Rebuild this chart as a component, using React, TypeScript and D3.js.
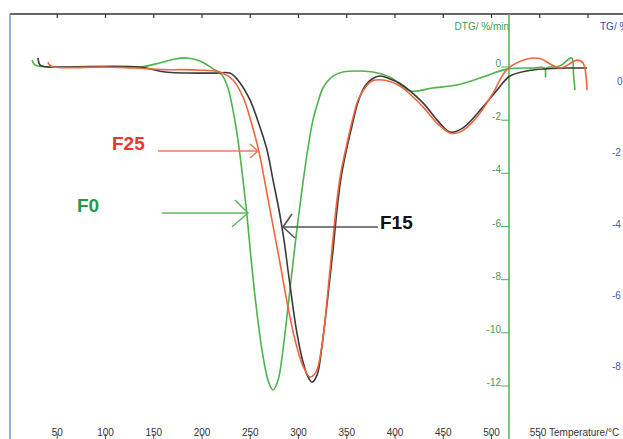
import React from "react";
import * as d3 from "d3";

type P = [number, number];

// Temperature (°C) vs DTG (%/min)
const f0: P[] = [
  [24, 0.26], [26, 0.11], [30, 0.04], [42, 0], [95, 0], [136, 0], [156, 0.15], [172, 0.3], [184, 0.34],
  [198, 0.23], [212, -0.08], [220.7, -0.3], [226.9, -0.79], [232.1, -1.62], [237.3, -2.75], [242.5, -4.25],
  [246.6, -5.57], [250.8, -7.19], [256, -8.96], [262.2, -10.65], [268.4, -11.78], [273.6, -12.15],
  [278.8, -11.78], [283.9, -10.65], [289.1, -9.03], [294.3, -7.37], [299.5, -5.76], [304.7, -4.33],
  [309.8, -3.05], [315, -1.99], [320.2, -1.32], [325.4, -0.79], [335.8, -0.34], [346, -0.19], [377, -0.19],
  [395, -0.38], [415.5, -0.9], [439, -0.79], [464, -0.68], [491, -0.38], [516, -0.08], [543, -0.04],
  [555, -0.04], [556, -0.38], [557, -0.04], [571, 0.04], [583, 0.34], [585, -0.3], [586.5, -0.87],
];

const f15: P[] = [
  [30, 0.34], [32, 0.08], [36, 0.02], [42.5, 0], [136, 0], [162, -0.19], [213.5, -0.23], [229, -0.23],
  [239.4, -0.6], [249.7, -1.24], [260.1, -2.26], [267.4, -3.12], [273.6, -4.25], [279.8, -5.38],
  [285, -6.51], [289.1, -7.64], [293.3, -8.77], [298.4, -10.01], [304.7, -11.1], [309.8, -11.66],
  [314, -11.85], [319.2, -11.59], [324.4, -10.46], [330.6, -8.58], [335.8, -6.88], [339.9, -5.38],
  [344, -4.18], [349.2, -3.2], [355.4, -2.22], [361.7, -1.32], [368.9, -0.71], [376.2, -0.45],
  [384.5, -0.34], [394.8, -0.45], [405.2, -0.62], [429, -1.35], [443.5, -1.99], [457, -2.45],
  [470.5, -2.29], [491.2, -1.5], [505.7, -0.87], [519.2, -0.34], [543, -0.11], [578, -0.04], [599, -0.04],
];

const f25: P[] = [
  [40.4, 0.19], [42, 0.08], [46, 0], [100, 0], [130, -0.04], [160, -0.1], [180, -0.1], [200, -0.12],
  [213, -0.15], [218.7, -0.19], [232.1, -0.49], [242.5, -1.13], [251.8, -2.18], [259.1, -3.2],
  [265.3, -4.36], [272.5, -5.76], [280.8, -7.37], [288.1, -8.84], [296.4, -10.27], [304.7, -11.25],
  [311.9, -11.66], [318.1, -11.48], [324.4, -10.46], [330.6, -8.39], [335.8, -6.43], [339.9, -5.0],
  [344, -3.95], [349.2, -3.05], [355.4, -2.07], [361.7, -1.24], [368.9, -0.79], [376.2, -0.53],
  [387.6, -0.49], [405.2, -0.72], [429, -1.5], [443.5, -2.11], [457, -2.48], [467.4, -2.45],
  [485, -1.88], [501.6, -0.98], [516, -0.1], [536.8, 0.3], [550, 0.32], [571, -0.04], [588.6, 0.26],
  [594.8, 0.15], [599, -0.87],
];

const tempTicks = [50, 100, 150, 200, 250, 300, 350, 400, 450, 500];
const topTicks = [50, 100, 150, 200, 250, 300, 350, 400, 450, 500, 550, 600];
const dtgTicks = [0, -2, -4, -6, -8, -10, -12];
const tgTicks = [0, -2, -4, -6, -8];

const W = 623;
const H = 439;

export default function App() {
  const x = d3.scaleLinear().domain([0, 600]).range([9, 588]);
  const y = d3.scaleLinear().domain([0, -12]).range([67, 386]);
  const yTG = d3.scaleLinear().domain([0, -8]).range([81, 366]);
  const line = d3
    .line<P>()
    .x((d) => x(d[0]))
    .y((d) => y(d[1]))
    .curve(d3.curveCatmullRom.alpha(0.5));

  const dtgX = 509;
  const font = "'Liberation Sans', Arial, sans-serif";

  return (
    <svg
      width={W}
      height={H}
      style={{ position: "fixed", left: 0, top: 0, display: "block", background: "#fff" }}
      fontFamily={font}
    >
      <rect x={0} y={0} width={W} height={H} fill="#fff" />
      {/* frame */}
      <line x1={10} y1={14} x2={W} y2={14} stroke="#333" strokeWidth={1.5} />
      <line x1={10} y1={14} x2={10} y2={H} stroke="#7e8ce0" strokeWidth={1.5} />
      {topTicks.map((t) => (
        <line key={"tt" + t} x1={x(t)} x2={x(t)} y1={14} y2={18} stroke="#333" strokeWidth={1.2} />
      ))}
      {/* bottom temperature labels */}
      {tempTicks.map((t) => (
        <g key={"bt" + t}>
          <line x1={x(t)} x2={x(t)} y1={434} y2={H} stroke="#555" strokeWidth={1} />
          <text x={x(t)} y={436} fontSize={10} textAnchor="middle" fill="#333">
            {t}
          </text>
        </g>
      ))}
      <line x1={x(550)} x2={x(550)} y1={434} y2={H} stroke="#555" strokeWidth={1} />
      <text x={x(550) - 10} y={436} fontSize={10} fill="#333">
        550 Temperature/°C
      </text>

      {/* DTG axis */}
      <line x1={dtgX} x2={dtgX} y1={14} y2={H} stroke="#4cb050" strokeWidth={1.5} />
      <text x={dtgX} y={30} fontSize={10} textAnchor="end" fill="#3f9a52">
        DTG/ %/min
      </text>
      {dtgTicks.map((v) => (
        <g key={"dt" + v}>
          <line x1={dtgX - 8} x2={dtgX} y1={y(v)} y2={y(v)} stroke="#4cb050" strokeWidth={1} />
          <text x={dtgX - 8} y={y(v)} fontSize={10} textAnchor="end" fill="#3f9a52">
            {v}
          </text>
        </g>
      ))}

      {/* TG axis (labels only, partly outside the view as in the original) */}
      <text x={600} y={30} fontSize={10} fill="#3a46a8">
        TG/ %
      </text>
      {tgTicks.map((v) => (
        <text key={"tg" + v} x={v === 0 ? 617 : 612} y={yTG(v) + 4} fontSize={10} fill="#4a58b8">
          {v}
        </text>
      ))}

      {/* curves */}
      <path d={line(f0) || ""} fill="none" stroke="#4cb44c" strokeWidth={1.6} />
      <path d={line(f15) || ""} fill="none" stroke="#3a3a3a" strokeWidth={1.6} />
      <path d={line(f25) || ""} fill="none" stroke="#f0643e" strokeWidth={1.6} />

      {/* annotations */}
      <text x={112} y={150} fontSize={19} fontWeight="bold" fill="#f5322a">
        F25
      </text>
      <g stroke="#f07a58" strokeWidth={1.5} fill="none">
        <line x1={158} y1={151} x2={258} y2={151} />
        <polyline points="250,144 258,151 250,158" />
      </g>

      <text x={77} y={212} fontSize={19} fontWeight="bold" fill="#1f9a45">
        F0
      </text>
      <g stroke="#5cba5c" strokeWidth={1.5} fill="none">
        <line x1={162} y1={213} x2={248} y2={213} />
        <polyline points="235,200 248,213 232,227" />
      </g>

      <text x={380} y={229} fontSize={19} fontWeight="bold" fill="#111">
        F15
      </text>
      <g stroke="#555" strokeWidth={1.6} fill="none">
        <line x1={378} y1={227} x2={283} y2={227} />
        <polyline points="292,214 283,227 295,238" />
      </g>
    </svg>
  );
}
